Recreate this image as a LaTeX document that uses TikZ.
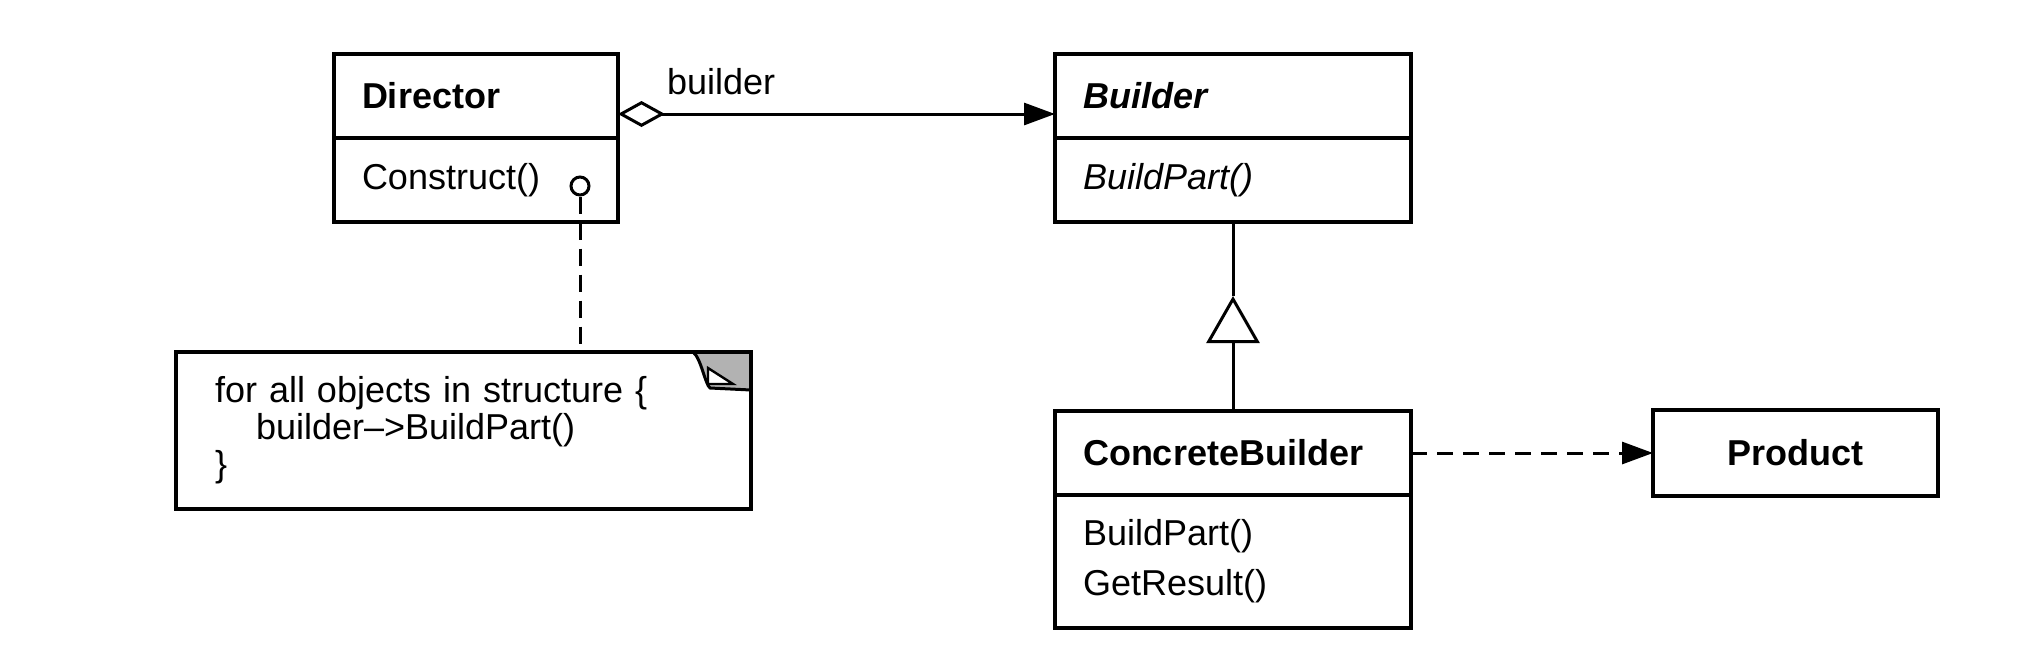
\documentclass[tikz,border=0pt]{standalone}
\usepackage{fontspec}
\setmainfont{Liberation Sans}
\usetikzlibrary{arrows.meta, positioning}

\begin{document}
\begin{tikzpicture}[
        x=0.5pt, y=-0.5pt,
        font=\fontsize{18}{25}\selectfont,
        head/.style={rectangle, draw, line width=1.8pt, outer sep=0pt, text width=#1, align=left, inner xsep=14pt, minimum height=42pt, font=\fontsize{18}{25}\selectfont\bfseries},
        ops/.style={rectangle, draw, line width=1.8pt, outer sep=0pt, text width=#1, align=left, inner xsep=14pt, minimum height=42pt},
        leafbox/.style={rectangle, draw, line width=1.8pt, outer sep=0pt, minimum width=142.5pt, minimum height=43pt, font=\fontsize{18}{25}\selectfont\bfseries},
        notebox/.style={rectangle, outer sep=0pt, text width=248.5pt, align=left, inner xsep=19.5pt, minimum height=78.5pt, font=\fontsize{18}{18.5}\selectfont},
        assoc/.style={line width=1.5pt, {Diamond[open, length=23.5pt, width=13pt]}-{Triangle[length=15.5pt, width=11pt]}},
        dep/.style={line width=1.5pt, dash pattern=on 8pt off 5pt, -{Triangle[length=15.5pt, width=11pt]}},
        genline/.style={line width=1.5pt, -{Triangle[open, length=23.5pt, width=26.5pt]}},
        notelink/.style={line width=1.5pt, dash pattern=on 8.5pt off 4.5pt}
    ]
    \useasboundingbox (0,0) rectangle (2024,660);

    % Director
    \node (director) [head=114pt] at (476,96) {Director};
    \node (directorops) [ops=114pt, below=0pt of director] {Construct()};

    % Builder
    \node (builder) [head=150pt, right=218.5pt of director] {\itshape Builder};
    \node (builderops) [ops=150pt, below=0pt of builder] {\itshape BuildPart()};

    % ConcreteBuilder und Product
    \node (cb) [head=150pt, below=94.5pt of builderops] {ConcreteBuilder};
    \node (cbops) [ops=150pt, minimum height=66.5pt, below=0pt of cb] {BuildPart()\\GetResult()};
    \node (product) [leafbox, right=121pt of cb] {Product};

    % Notiz
    \node (loopnote) [notebox, below=65pt of directorops, xshift=-6.25pt] {for all objects in structure \{\\\hspace*{20.5pt}builder\textendash{}>BuildPart()\\\}};
    \fill[gray!60] ([xshift=-29pt]loopnote.north east) -- (loopnote.north east) -- ([yshift=-19pt]loopnote.north east) -- ([xshift=-20.5pt,yshift=-18pt]loopnote.north east) .. controls ([xshift=-23pt,yshift=-16pt]loopnote.north east) and ([xshift=-25pt,yshift=-3pt]loopnote.north east) .. ([xshift=-29pt]loopnote.north east) -- cycle;
    \draw[line width=1.8pt] (loopnote.north west) rectangle (loopnote.south east);
    \draw[line width=1.5pt] ([xshift=-29pt]loopnote.north east) .. controls ([xshift=-25pt,yshift=-3pt]loopnote.north east) and ([xshift=-23pt,yshift=-16pt]loopnote.north east) .. ([xshift=-20.5pt,yshift=-18pt]loopnote.north east) -- ([yshift=-19pt]loopnote.north east);
    \filldraw[fill=white, line width=1.2pt] ([xshift=-21.5pt,yshift=-8pt]loopnote.north east) -- ([xshift=-21.5pt,yshift=-16pt]loopnote.north east) -- ([xshift=-9pt,yshift=-16pt]loopnote.north east) -- cycle;

    % Kreis und Hilfspunkte
    \node (hook) [circle, draw, line width=1.5pt, inner sep=0pt, minimum size=9pt] at ([xshift=-19pt, yshift=-3pt]directorops.east) {};
    \coordinate (assocstart) at ([yshift=-9pt]director.east);
    \coordinate (gen) at ([yshift=-37pt]builderops.south);

    % Verbindungen
    \draw [assoc] (assocstart) -- (assocstart -| builder.west) node[pos=0, anchor=south west, xshift=20.5pt, yshift=5.5pt] (rolename) {builder};
    \draw [genline] (cb) -- (gen);
    \draw [line width=1.5pt] (gen) -- (builderops);
    \draw [dep] (cb) -- (product);
    \draw [notelink] (hook) -- (hook |- loopnote.north);

\end{tikzpicture}
\end{document}
